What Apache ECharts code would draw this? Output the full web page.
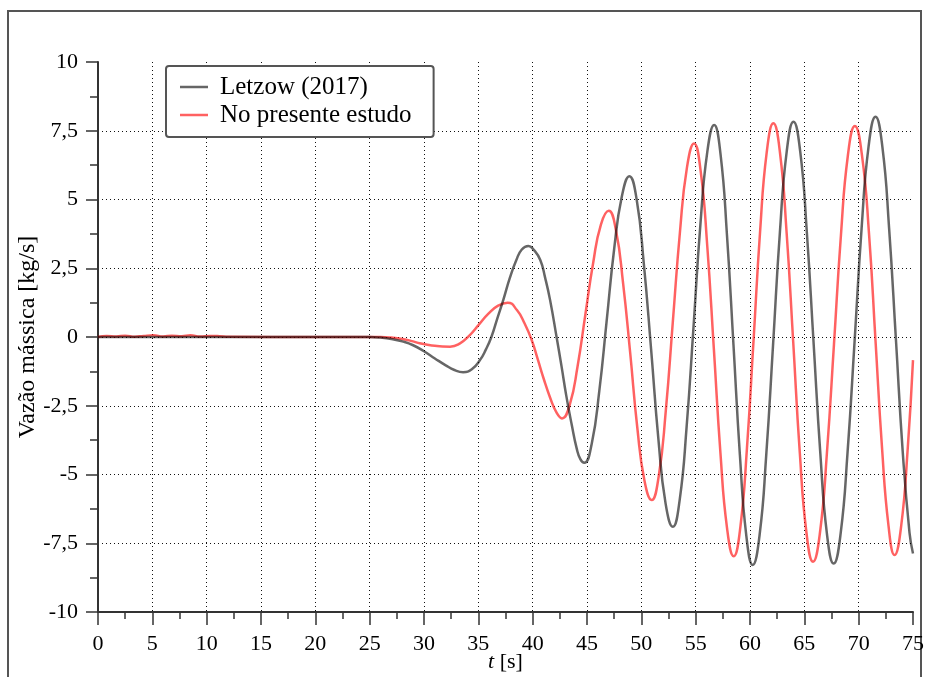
<!DOCTYPE html>
<html>
<head>
<meta charset="utf-8">
<script src="https://cdn.jsdelivr.net/npm/echarts@6/dist/echarts.min.js"></script>
<style>
  html, body { margin: 0; padding: 0; background: #fff; }
  #chart { width: 927px; height: 677px; }
</style>
</head>
<body>
<div id="chart"></div>
<script>
// Mass flow rate over time: reference result (Letzow, 2017) vs. present study
const seriesNames = ['Letzow (2017)', 'No presente estudo'];

// Letzow (2017): time [s] and mass flow [kg/s]
const letzowT = [0, 10, 20, 25, 26, 27, 28, 29, 30, 31, 32, 32.8, 33.6,
  34.4, 35.15, 35.7, 36.2, 36.75, 37.3, 37.9, 38.5, 39.0, 39.6,
  40.1, 40.7, 41.15, 41.6, 42.2, 42.65, 43.1, 43.6, 44.05, 44.4, 44.75,
  45.44, 46.13, 46.8, 47.5, 48.2, 48.9,
  49.57, 50.23, 50.9, 51.57, 52.23, 52.9,
  53.53, 54.17, 54.8, 55.43, 56.07, 56.7,
  57.29, 57.88, 58.48, 59.07, 59.66, 60.25,
  60.88, 61.5, 62.13, 62.75, 63.38, 64.0,
  64.62, 65.23, 65.85, 66.47, 67.08, 67.7,
  68.34, 68.98, 69.63, 70.27, 70.91, 71.55,
  72.18, 72.8, 73.43, 74.05, 74.68, 75];
const letzowV = [0, 0, 0, 0, -0.02, -0.07, -0.16, -0.3, -0.52, -0.78, -1.03, -1.2, -1.28,
  -1.17, -0.84, -0.45, 0, 0.68, 1.35, 2.15, 2.8, 3.18, 3.31,
  3.17, 2.8, 2.15, 1.35, 0, -1.05, -2.15, -3.2, -4.05, -4.45, -4.57,
  -3.87, -1.97, 0.55, 3.2, 5.1, 5.85,
  5.0, 2.66, -0.45, -3.71, -6.05, -6.9,
  -5.92, -3.25, 0.35, 4.06, 6.73, 7.71,
  6.64, 3.71, -0.29, -4.29, -7.22, -8.29,
  -7.21, -4.26, -0.23, 3.8, 6.75, 7.83,
  6.75, 3.81, -0.2, -4.22, -7.16, -8.24,
  -7.15, -4.18, -0.12, 3.95, 6.92, 8.01,
  6.92, 3.96, -0.1, -4.15, -7.12, -7.87];

// Present study: time [s] and mass flow [kg/s]
const estudoT = [0, 0.8, 1.7, 2.5, 3.4, 4.2, 5.1, 6.0, 6.8, 7.7, 8.5, 9.4, 10.3, 11.2, 12, 20,
  26, 27, 28, 29, 29.6, 30.3, 31, 31.7, 32.4,
  33.28, 34.17, 35.05, 35.93, 36.82, 37.7,
  38.55, 39.25, 39.9, 40.5, 41.0, 41.6, 42.2, 42.7,
  43.42, 44.13, 44.85, 45.57, 46.28, 47.0,
  47.66, 48.32, 48.98, 49.63, 50.29, 50.95,
  51.6, 52.25, 52.9, 53.55, 54.2, 54.85,
  55.46, 56.07, 56.68, 57.28, 57.89, 58.5,
  59.11, 59.72, 60.33, 60.93, 61.54, 62.15,
  62.76, 63.37, 63.98, 64.58, 65.19, 65.8,
  66.44, 67.08, 67.73, 68.37, 69.01, 69.65,
  70.3, 70.95, 71.55, 72.15, 72.75, 73.3,
  73.91, 74.52, 75];
const estudoV = [0, 0.04, 0.02, 0.05, 0.01, 0.04, 0.06, 0.02, 0.05, 0.03, 0.06, 0.02, 0.04, 0.03, 0.01, 0,
  0, -0.02, -0.07, -0.16, -0.23, -0.28, -0.32, -0.345, -0.35,
  -0.24, 0.05, 0.45, 0.85, 1.14, 1.25,
  0.98, 0.5, -0.1, -0.85, -1.5, -2.2, -2.75, -2.96,
  -2.45, -1.07, 0.82, 2.7, 4.09, 4.59,
  3.89, 1.96, -0.6, -3.3, -5.23, -5.93,
  -5.06, -2.69, 0.56, 3.8, 6.17, 7.04,
  6.03, 3.29, -0.47, -4.22, -6.96, -7.97,
  -6.92, -4.04, -0.1, 3.84, 6.72, 7.77,
  6.7, 3.79, -0.2, -4.19, -7.1, -8.17,
  -7.11, -4.21, -0.25, 3.71, 6.61, 7.67,
  6.62, 3.77, -0.13, -4.03, -6.88, -7.93,
  -6.88, -4.02, -0.84];

const xTicks = { min: 0, max: 75, step: 5 };
const yTicks = { min: -10, max: 10, step: 2.5 };

const pairs = (t, v) => t.map((x, i) => [x, v[i]]);
const comma = (val) => String(val).replace('.', ',');

const FONT = '"Liberation Serif", "Times New Roman", serif';
const AXIS_COLOR = '#333';
const GRAY = 'rgba(0,0,0,0.6)';
const RED = 'rgba(255,0,0,0.62)';

const chart = echarts.init(document.getElementById('chart'), null, { renderer: 'canvas' });

const axisCommon = {
  type: 'value',
  axisLine: { show: true, onZero: false, lineStyle: { color: AXIS_COLOR, width: 2 } },
  axisTick: { show: true, inside: false, lineStyle: { color: AXIS_COLOR, width: 1.5 } },
  minorTick: { show: true, splitNumber: 2, lineStyle: { color: AXIS_COLOR, width: 1.5 } },
  splitLine: { show: true, showMinLine: false, showMaxLine: false, lineStyle: { color: '#111', width: 1, type: [1, 3] } },
  minorSplitLine: { show: false },
  axisLabel: { fontFamily: FONT, fontSize: 22, color: '#000', formatter: comma },
  nameMoveOverlap: false
};

chart.setOption({
  animation: false,
  backgroundColor: '#fff',
  grid: { left: 98, right: 14, top: 62, bottom: 65, containLabel: false, outerBoundsMode: 'none' },
  xAxis: Object.assign({}, axisCommon, {
    min: xTicks.min, max: xTicks.max, interval: xTicks.step,
    axisTick: Object.assign({}, axisCommon.axisTick, { length: 13 }),
    minorTick: Object.assign({}, axisCommon.minorTick, { length: 7 }),
    axisLabel: Object.assign({}, axisCommon.axisLabel, { margin: 21 }),
    name: '{i|t} [s]',
    nameLocation: 'middle',
    nameGap: 39,
    nameTextStyle: {
      fontFamily: FONT, fontSize: 22, color: '#000',
      rich: { i: { fontFamily: FONT, fontSize: 22, fontStyle: 'italic', color: '#000' } }
    }
  }),
  yAxis: Object.assign({}, axisCommon, {
    min: yTicks.min, max: yTicks.max, interval: yTicks.step,
    axisTick: Object.assign({}, axisCommon.axisTick, { length: 12 }),
    minorTick: Object.assign({}, axisCommon.minorTick, { length: 8 }),
    axisLabel: Object.assign({}, axisCommon.axisLabel, { margin: 20 }),
    name: 'Vazão mássica [kg/s]',
    nameLocation: 'middle',
    nameGap: 58,
    nameTextStyle: { fontFamily: FONT, fontSize: 24, color: '#000' }
  }),
  legend: {
    data: seriesNames,
    orient: 'vertical',
    left: 166,
    top: 66,
    padding: [8, 22, 9, 14],
    icon: 'rect',
    itemWidth: 28,
    itemHeight: 2.5,
    itemGap: 2,
    borderColor: '#555',
    borderWidth: 2,
    borderRadius: 3,
    backgroundColor: '#fff',
    textStyle: { fontFamily: FONT, fontSize: 25, color: '#000', lineHeight: 26, padding: [0, 0, 0, 7] }
  },
  graphic: [{
    type: 'rect',
    silent: true,
    z: -10,
    shape: { x: 8, y: 11, width: 913, height: 700 },
    style: { fill: 'none', stroke: '#555', lineWidth: 2 }
  }],
  series: [
    {
      name: seriesNames[1],
      type: 'line',
      data: pairs(estudoT, estudoV),
      symbol: 'none',
      smooth: true,
      lineStyle: { color: RED, width: 2.5 },
      itemStyle: { color: RED },
      z: 2
    },
    {
      name: seriesNames[0],
      type: 'line',
      data: pairs(letzowT, letzowV),
      symbol: 'none',
      smooth: true,
      lineStyle: { color: GRAY, width: 2.5 },
      itemStyle: { color: GRAY },
      z: 3
    }
  ]
});
</script>
</body>
</html>
